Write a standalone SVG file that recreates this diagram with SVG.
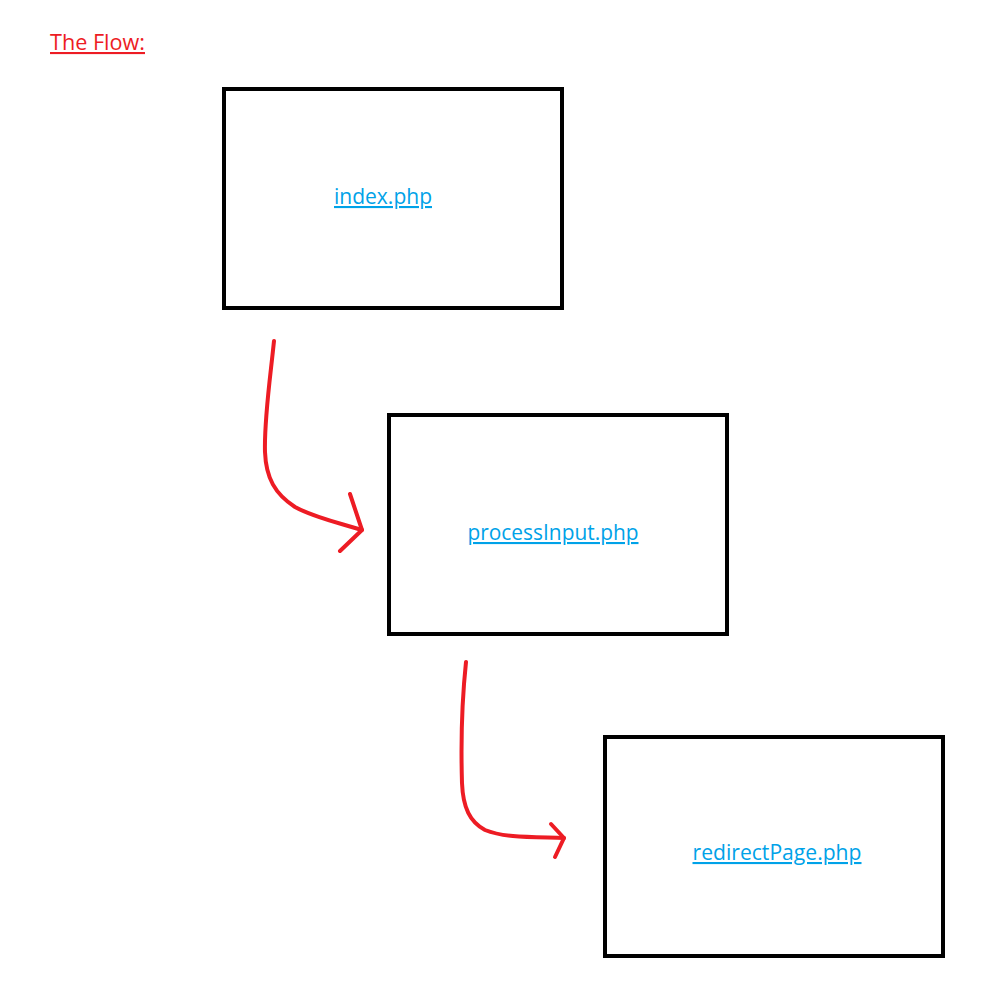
<svg xmlns="http://www.w3.org/2000/svg" width="982" height="986" viewBox="0 0 982 986">
<style>
.box{fill:#fff;stroke:#000;stroke-width:4}
.lbl{font-family:"Open Sans","Liberation Sans",sans-serif;font-size:21px;fill:#00a2e8;text-decoration:underline;text-anchor:middle}
.ttl{font-family:"Open Sans","Liberation Sans",sans-serif;font-size:21px;fill:#ed1c24;text-decoration:underline}
.arr{fill:none;stroke:#ed1c24;stroke-width:4;stroke-linecap:round;stroke-linejoin:round}
</style>
<rect width="982" height="986" fill="#fff"/>
<text class="ttl" x="50" y="50" textLength="95" lengthAdjust="spacingAndGlyphs">The Flow:</text>
<g id="node-index">
<rect class="box" x="224" y="89" width="338" height="219"/>
<text class="lbl" x="383" y="204" textLength="98" lengthAdjust="spacingAndGlyphs">index.php</text>
</g>
<g id="node-process">
<rect class="box" x="389" y="415" width="338" height="219"/>
<text class="lbl" x="553" y="540" textLength="171" lengthAdjust="spacingAndGlyphs">processInput.php</text>
</g>
<g id="node-redirect">
<rect class="box" x="605" y="737" width="338" height="219"/>
<text class="lbl" x="777" y="860" textLength="169" lengthAdjust="spacingAndGlyphs">redirectPage.php</text>
</g>
<g id="connectors">
<path class="arr" d="M274,341 C270,380 264,420 265,452 C266,478 275,494 295,507 C315,518 340,523 362,530"/>
<path class="arr" d="M350,494 L362,530 L340,551"/>
<path class="arr" d="M466,662 C462,700 461,750 462,783 C463,808 470,822 485,830 C505,838 530,837 564,838"/>
<path class="arr" d="M551,824 L564,838 L555,857"/>
</g>
</svg>
